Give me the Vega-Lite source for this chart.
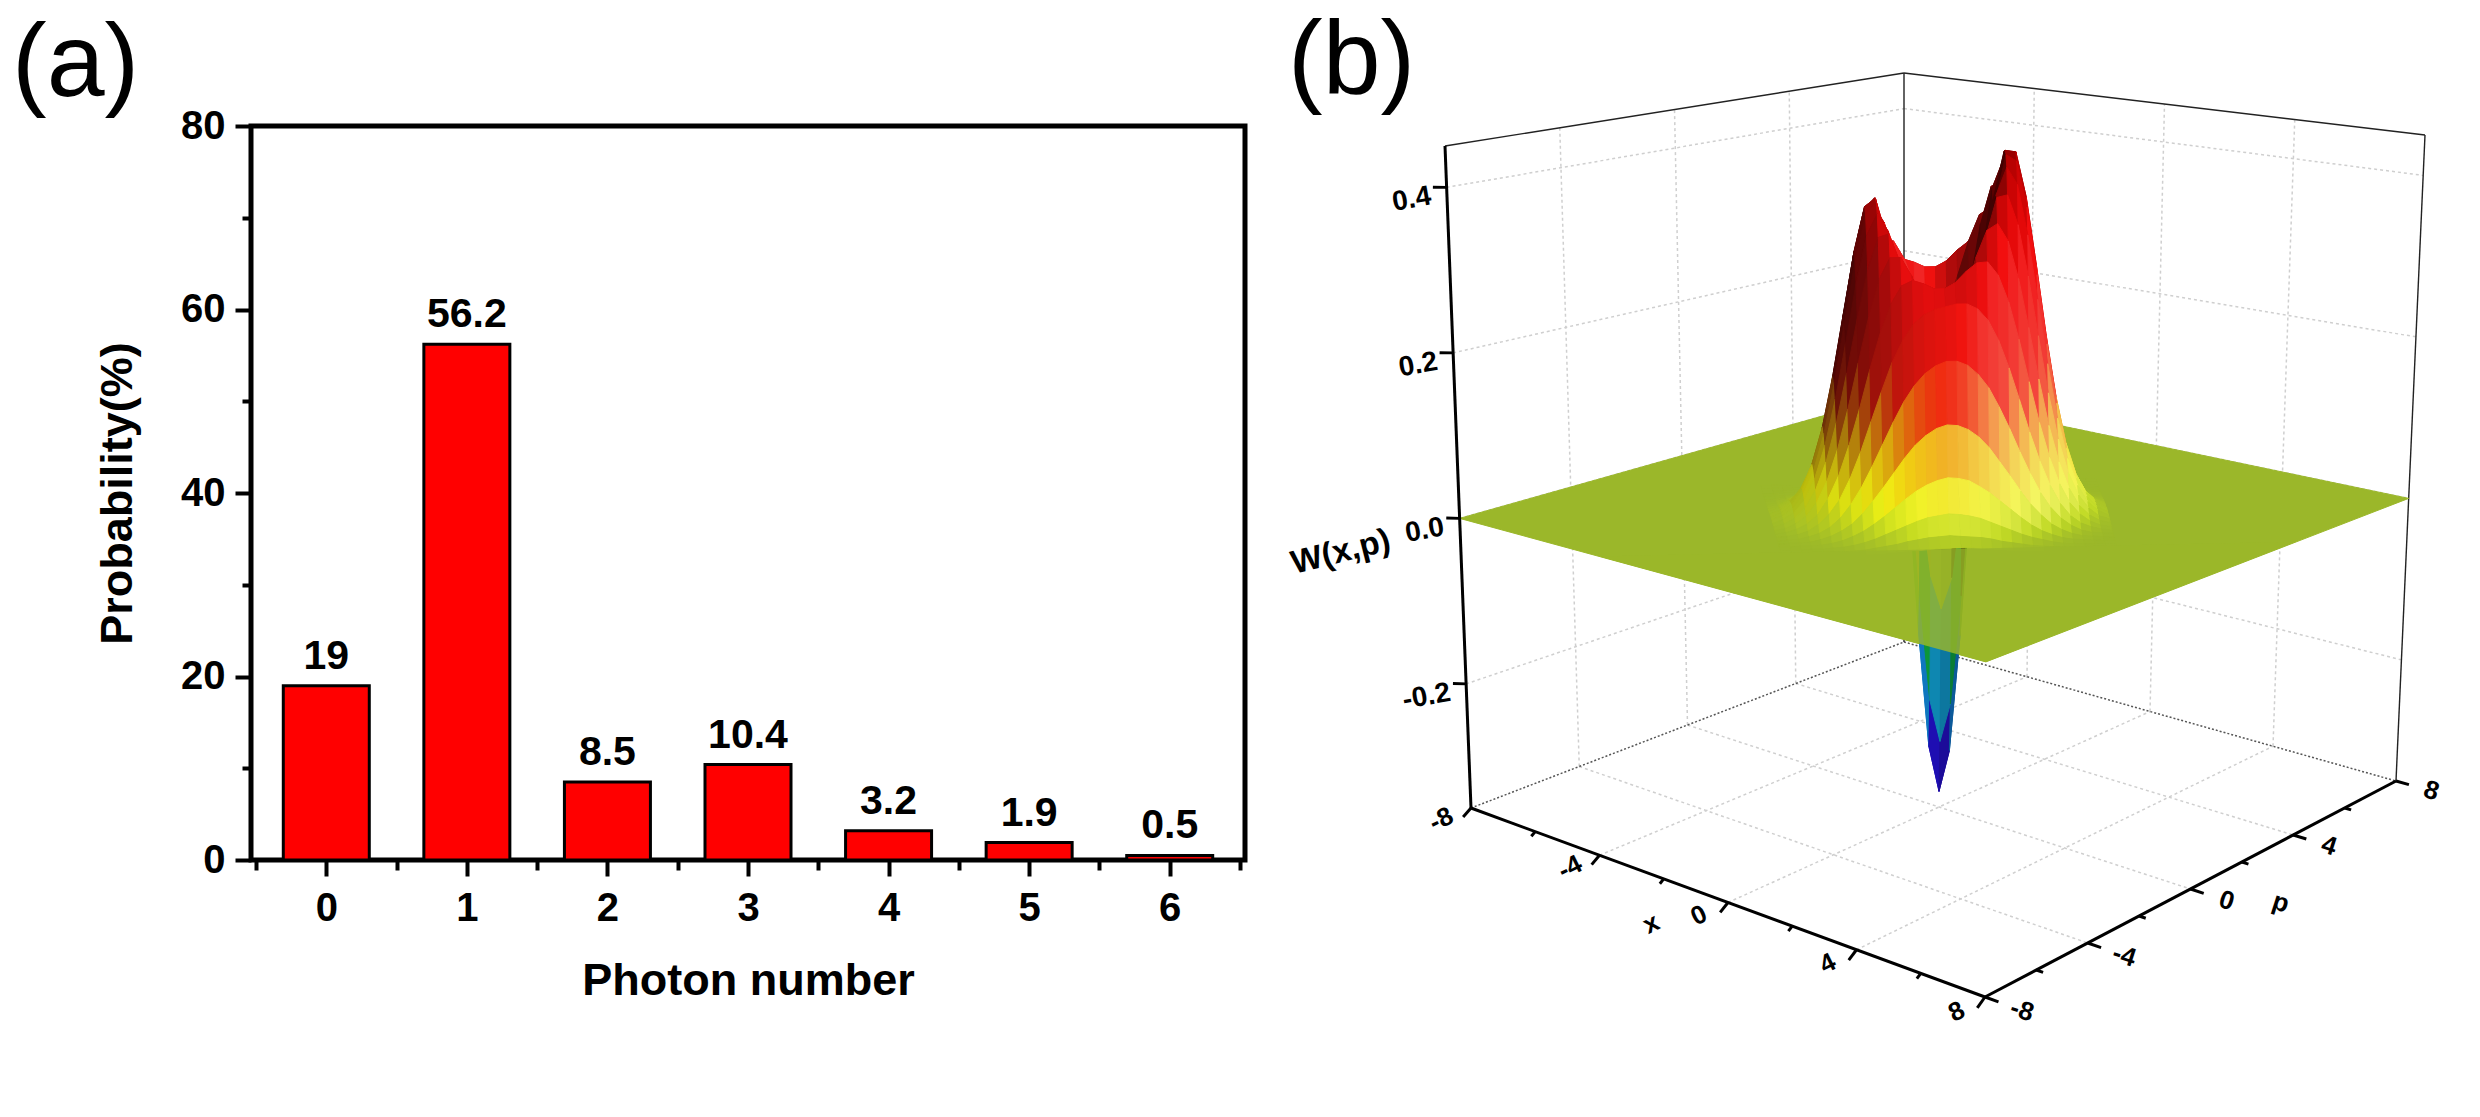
{
  "$schema": "https://vega.github.io/schema/vega-lite/v6.json",
  "background": "white",
  "padding": {"left": 9, "top": 10, "right": 0, "bottom": 0},
  "config": {
    "font": "Liberation Sans",
    "view": {"stroke": null},
    "axis": {"grid": false, "tickColor": "black", "domainColor": "black", "labelColor": "black", "titleColor": "black", "labelFlush": false},
    "title": {"color": "black"}
  },
  "datasets": {
    "bars": [
      {"n": 0, "P": 19}, {"n": 1, "P": 56.2}, {"n": 2, "P": 8.5}, {"n": 3, "P": 10.4},
      {"n": 4, "P": 3.2}, {"n": 5, "P": 1.9}, {"n": 6, "P": 0.5}
    ],
    "box": [
      {"k":"g","s":"g1","o":0,"x":-4,"p":-8,"W":-0.35},{"k":"g","s":"g1","o":1,"x":-4,"p":8,"W":-0.35},
      {"k":"g","s":"g2","o":0,"x":0,"p":-8,"W":-0.35},{"k":"g","s":"g2","o":1,"x":0,"p":8,"W":-0.35},
      {"k":"g","s":"g3","o":0,"x":4,"p":-8,"W":-0.35},{"k":"g","s":"g3","o":1,"x":4,"p":8,"W":-0.35},
      {"k":"g","s":"g4","o":0,"x":-8,"p":-4,"W":-0.35},{"k":"g","s":"g4","o":1,"x":8,"p":-4,"W":-0.35},
      {"k":"g","s":"g5","o":0,"x":-8,"p":0,"W":-0.35},{"k":"g","s":"g5","o":1,"x":8,"p":0,"W":-0.35},
      {"k":"g","s":"g6","o":0,"x":-8,"p":4,"W":-0.35},{"k":"g","s":"g6","o":1,"x":8,"p":4,"W":-0.35},
      {"k":"g","s":"g7","o":0,"x":-8,"p":-4,"W":-0.35},{"k":"g","s":"g7","o":1,"x":-8,"p":-4,"W":0.45},
      {"k":"g","s":"g8","o":0,"x":-8,"p":0,"W":-0.35},{"k":"g","s":"g8","o":1,"x":-8,"p":0,"W":0.45},
      {"k":"g","s":"g9","o":0,"x":-8,"p":4,"W":-0.35},{"k":"g","s":"g9","o":1,"x":-8,"p":4,"W":0.45},
      {"k":"g","s":"g10","o":0,"x":-8,"p":-8,"W":-0.2},{"k":"g","s":"g10","o":1,"x":-8,"p":8,"W":-0.2},
      {"k":"g","s":"g11","o":0,"x":-8,"p":-8,"W":0},{"k":"g","s":"g11","o":1,"x":-8,"p":8,"W":0},
      {"k":"g","s":"g12","o":0,"x":-8,"p":-8,"W":0.2},{"k":"g","s":"g12","o":1,"x":-8,"p":8,"W":0.2},
      {"k":"g","s":"g13","o":0,"x":-8,"p":-8,"W":0.4},{"k":"g","s":"g13","o":1,"x":-8,"p":8,"W":0.4},
      {"k":"g","s":"g14","o":0,"x":-4,"p":8,"W":-0.35},{"k":"g","s":"g14","o":1,"x":-4,"p":8,"W":0.45},
      {"k":"g","s":"g15","o":0,"x":0,"p":8,"W":-0.35},{"k":"g","s":"g15","o":1,"x":0,"p":8,"W":0.45},
      {"k":"g","s":"g16","o":0,"x":4,"p":8,"W":-0.35},{"k":"g","s":"g16","o":1,"x":4,"p":8,"W":0.45},
      {"k":"g","s":"g17","o":0,"x":-8,"p":8,"W":-0.2},{"k":"g","s":"g17","o":1,"x":8,"p":8,"W":-0.2},
      {"k":"g","s":"g18","o":0,"x":-8,"p":8,"W":0},{"k":"g","s":"g18","o":1,"x":8,"p":8,"W":0},
      {"k":"g","s":"g19","o":0,"x":-8,"p":8,"W":0.2},{"k":"g","s":"g19","o":1,"x":8,"p":8,"W":0.2},
      {"k":"g","s":"g20","o":0,"x":-8,"p":8,"W":0.4},{"k":"g","s":"g20","o":1,"x":8,"p":8,"W":0.4},
      {"k":"e","s":"e1","o":0,"x":-8,"p":8,"W":-0.35},{"k":"e","s":"e1","o":1,"x":-8,"p":8,"W":0.45},
      {"k":"e","s":"e2","o":0,"x":8,"p":8,"W":-0.35},{"k":"e","s":"e2","o":1,"x":8,"p":8,"W":0.45},
      {"k":"e","s":"e3","o":0,"x":-8,"p":-8,"W":0.45},{"k":"e","s":"e3","o":1,"x":-8,"p":8,"W":0.45},
      {"k":"e","s":"e4","o":0,"x":-8,"p":8,"W":0.45},{"k":"e","s":"e4","o":1,"x":8,"p":8,"W":0.45},
      {"k":"f","s":"f1","o":0,"x":-8,"p":-8,"W":-0.35},{"k":"f","s":"f1","o":1,"x":-8,"p":8,"W":-0.35},
      {"k":"f","s":"f2","o":0,"x":-8,"p":8,"W":-0.35},{"k":"f","s":"f2","o":1,"x":8,"p":8,"W":-0.35},
      {"k":"pk","s":"pk","o":0,"x":-8,"p":-8,"W":0},{"k":"pk","s":"pk","o":1,"x":8,"p":-8,"W":0},
      {"k":"pk","s":"pk","o":2,"x":8,"p":8,"W":0},{"k":"pk","s":"pk","o":3,"x":-8,"p":8,"W":0},
      {"k":"np","s":"np","o":0,"x":8,"p":-8,"W":0},{"k":"np","s":"np","o":1,"x":8,"p":3.757,"W":0},
      {"k":"np","s":"np","o":2,"x":-3.757,"p":-8,"W":0},
      {"k":"a","s":"a1","o":0,"x":-8,"p":-8,"W":-0.35},{"k":"a","s":"a1","o":1,"x":-8,"p":-8,"W":0.45},
      {"k":"a","s":"a2","o":0,"x":-8,"p":-8,"W":-0.35},{"k":"a","s":"a2","o":1,"x":8,"p":-8,"W":-0.35},
      {"k":"a","s":"a3","o":0,"x":8,"p":-8,"W":-0.35},{"k":"a","s":"a3","o":1,"x":8,"p":8,"W":-0.35},
      {"k":"t","s":"tw1","o":0,"x":-8,"p":-8,"W":-0.2},{"k":"t","s":"tw1","o":1,"x":-8.22,"p":-8.22,"W":-0.2},
      {"k":"t","s":"tw2","o":0,"x":-8,"p":-8,"W":0},{"k":"t","s":"tw2","o":1,"x":-8.22,"p":-8.22,"W":0},
      {"k":"t","s":"tw3","o":0,"x":-8,"p":-8,"W":0.2},{"k":"t","s":"tw3","o":1,"x":-8.22,"p":-8.22,"W":0.2},
      {"k":"t","s":"tw4","o":0,"x":-8,"p":-8,"W":0.4},{"k":"t","s":"tw4","o":1,"x":-8.22,"p":-8.22,"W":0.4},
      {"k":"t","s":"tx1","o":0,"x":-8,"p":-8,"W":-0.35},{"k":"t","s":"tx1","o":1,"x":-8,"p":-8.3,"W":-0.357},
      {"k":"t","s":"tx2","o":0,"x":-4,"p":-8,"W":-0.35},{"k":"t","s":"tx2","o":1,"x":-4,"p":-8.3,"W":-0.357},
      {"k":"t","s":"tx3","o":0,"x":0,"p":-8,"W":-0.35},{"k":"t","s":"tx3","o":1,"x":0,"p":-8.3,"W":-0.357},
      {"k":"t","s":"tx4","o":0,"x":4,"p":-8,"W":-0.35},{"k":"t","s":"tx4","o":1,"x":4,"p":-8.3,"W":-0.357},
      {"k":"t","s":"tx5","o":0,"x":8,"p":-8,"W":-0.35},{"k":"t","s":"tx5","o":1,"x":8,"p":-8.3,"W":-0.357},
      {"k":"t","s":"tx6","o":0,"x":-6,"p":-8,"W":-0.35},{"k":"t","s":"tx6","o":1,"x":-6,"p":-8.15,"W":-0.3535},
      {"k":"t","s":"tx7","o":0,"x":-2,"p":-8,"W":-0.35},{"k":"t","s":"tx7","o":1,"x":-2,"p":-8.15,"W":-0.3535},
      {"k":"t","s":"tx8","o":0,"x":2,"p":-8,"W":-0.35},{"k":"t","s":"tx8","o":1,"x":2,"p":-8.15,"W":-0.3535},
      {"k":"t","s":"tx9","o":0,"x":6,"p":-8,"W":-0.35},{"k":"t","s":"tx9","o":1,"x":6,"p":-8.15,"W":-0.3535},
      {"k":"t","s":"tp1","o":0,"x":8,"p":-8,"W":-0.35},{"k":"t","s":"tp1","o":1,"x":8.42,"p":-8,"W":-0.35},
      {"k":"t","s":"tp2","o":0,"x":8,"p":-4,"W":-0.35},{"k":"t","s":"tp2","o":1,"x":8.42,"p":-4,"W":-0.35},
      {"k":"t","s":"tp3","o":0,"x":8,"p":0,"W":-0.35},{"k":"t","s":"tp3","o":1,"x":8.42,"p":0,"W":-0.35},
      {"k":"t","s":"tp4","o":0,"x":8,"p":4,"W":-0.35},{"k":"t","s":"tp4","o":1,"x":8.42,"p":4,"W":-0.35},
      {"k":"t","s":"tp5","o":0,"x":8,"p":8,"W":-0.35},{"k":"t","s":"tp5","o":1,"x":8.42,"p":8,"W":-0.35},
      {"k":"t","s":"tp6","o":0,"x":8,"p":-6,"W":-0.35},{"k":"t","s":"tp6","o":1,"x":8.21,"p":-6,"W":-0.35},
      {"k":"t","s":"tp7","o":0,"x":8,"p":-2,"W":-0.35},{"k":"t","s":"tp7","o":1,"x":8.21,"p":-2,"W":-0.35},
      {"k":"t","s":"tp8","o":0,"x":8,"p":2,"W":-0.35},{"k":"t","s":"tp8","o":1,"x":8.21,"p":2,"W":-0.35},
      {"k":"t","s":"tp9","o":0,"x":8,"p":6,"W":-0.35},{"k":"t","s":"tp9","o":1,"x":8.21,"p":6,"W":-0.35},
      {"k":"wl","t":"-0.2","x":-8,"p":-8,"W":-0.2},{"k":"wl","t":"0.0","x":-8,"p":-8,"W":0},
      {"k":"wl","t":"0.2","x":-8,"p":-8,"W":0.2},{"k":"wl","t":"0.4","x":-8,"p":-8,"W":0.4},
      {"k":"wt","t":"W(x,p)","x":-8,"p":-8,"W":0},
      {"k":"xl","t":"-8","x":-8,"p":-9.1,"W":-0.35},{"k":"xl","t":"-4","x":-4,"p":-9.1,"W":-0.35},
      {"k":"xl","t":"0","x":0,"p":-9.1,"W":-0.35},{"k":"xl","t":"4","x":4,"p":-9.1,"W":-0.35},
      {"k":"xl","t":"8","x":8,"p":-9.1,"W":-0.35},
      {"k":"xt","t":"x","x":-0.5,"p":-10.3,"W":-0.35},
      {"k":"pn","t":"-8","x":9.15,"p":-8,"W":-0.35},{"k":"pn","t":"-4","x":9.15,"p":-4,"W":-0.35},
      {"k":"pn","t":"0","x":9.15,"p":0,"W":-0.35},{"k":"pn","t":"4","x":9.15,"p":4,"W":-0.35},
      {"k":"pn","t":"8","x":9.15,"p":8,"W":-0.35},
      {"k":"pt","t":"p","x":10.3,"p":0.7,"W":-0.35}
    ],
    "wigner": [
      {"a":-3,"b":-4,"W":0},{"a":-3,"b":-3.75,"W":0},{"a":-3,"b":-3.5,"W":0},{"a":-3,"b":-3.25,"W":0},{"a":-3,"b":-3,"W":0},{"a":-3,"b":-2.75,"W":0},{"a":-3,"b":-2.5,"W":0},{"a":-3,"b":-2.25,"W":0.001},{"a":-3,"b":-2,"W":0.001},{"a":-3,"b":-1.75,"W":0.002},{"a":-3,"b":-1.5,"W":0.003},{"a":-3,"b":-1.25,"W":0.004},{"a":-3,"b":-1,"W":0.005},{"a":-3,"b":-0.75,"W":0.005},{"a":-3,"b":-0.5,"W":0.006},{"a":-3,"b":-0.25,"W":0.007},{"a":-3,"b":0,"W":0.007},{"a":-3,"b":0.25,"W":0.007},{"a":-3,"b":0.5,"W":0.007},{"a":-3,"b":0.75,"W":0.006},{"a":-3,"b":1,"W":0.005},{"a":-3,"b":1.25,"W":0.004},{"a":-3,"b":1.5,"W":0.003},{"a":-3,"b":1.75,"W":0.002},{"a":-3,"b":2,"W":0.002},{"a":-3,"b":2.25,"W":0.001},{"a":-3,"b":2.5,"W":0.001},{"a":-3,"b":2.75,"W":0},{"a":-3,"b":3,"W":0},{"a":-3,"b":3.25,"W":0},{"a":-3,"b":3.5,"W":0},{"a":-3,"b":3.75,"W":0},{"a":-3,"b":4,"W":0},
      {"a":-2.75,"b":-4,"W":0},{"a":-2.75,"b":-3.75,"W":0},{"a":-2.75,"b":-3.5,"W":0},{"a":-2.75,"b":-3.25,"W":0},{"a":-2.75,"b":-3,"W":0},{"a":-2.75,"b":-2.75,"W":0.001},{"a":-2.75,"b":-2.5,"W":0.001},{"a":-2.75,"b":-2.25,"W":0.002},{"a":-2.75,"b":-2,"W":0.003},{"a":-2.75,"b":-1.75,"W":0.005},{"a":-2.75,"b":-1.5,"W":0.007},{"a":-2.75,"b":-1.25,"W":0.009},{"a":-2.75,"b":-1,"W":0.012},{"a":-2.75,"b":-0.75,"W":0.014},{"a":-2.75,"b":-0.5,"W":0.016},{"a":-2.75,"b":-0.25,"W":0.017},{"a":-2.75,"b":0,"W":0.018},{"a":-2.75,"b":0.25,"W":0.017},{"a":-2.75,"b":0.5,"W":0.016},{"a":-2.75,"b":0.75,"W":0.015},{"a":-2.75,"b":1,"W":0.013},{"a":-2.75,"b":1.25,"W":0.01},{"a":-2.75,"b":1.5,"W":0.008},{"a":-2.75,"b":1.75,"W":0.006},{"a":-2.75,"b":2,"W":0.004},{"a":-2.75,"b":2.25,"W":0.003},{"a":-2.75,"b":2.5,"W":0.002},{"a":-2.75,"b":2.75,"W":0.001},{"a":-2.75,"b":3,"W":0.001},{"a":-2.75,"b":3.25,"W":0},{"a":-2.75,"b":3.5,"W":0},{"a":-2.75,"b":3.75,"W":0},{"a":-2.75,"b":4,"W":0},
      {"a":-2.5,"b":-4,"W":0},{"a":-2.5,"b":-3.75,"W":0},{"a":-2.5,"b":-3.5,"W":0},{"a":-2.5,"b":-3.25,"W":0.001},{"a":-2.5,"b":-3,"W":0.001},{"a":-2.5,"b":-2.75,"W":0.002},{"a":-2.5,"b":-2.5,"W":0.003},{"a":-2.5,"b":-2.25,"W":0.005},{"a":-2.5,"b":-2,"W":0.008},{"a":-2.5,"b":-1.75,"W":0.012},{"a":-2.5,"b":-1.5,"W":0.017},{"a":-2.5,"b":-1.25,"W":0.022},{"a":-2.5,"b":-1,"W":0.027},{"a":-2.5,"b":-0.75,"W":0.032},{"a":-2.5,"b":-0.5,"W":0.036},{"a":-2.5,"b":-0.25,"W":0.038},{"a":-2.5,"b":0,"W":0.04},{"a":-2.5,"b":0.25,"W":0.039},{"a":-2.5,"b":0.5,"W":0.037},{"a":-2.5,"b":0.75,"W":0.034},{"a":-2.5,"b":1,"W":0.029},{"a":-2.5,"b":1.25,"W":0.024},{"a":-2.5,"b":1.5,"W":0.019},{"a":-2.5,"b":1.75,"W":0.014},{"a":-2.5,"b":2,"W":0.01},{"a":-2.5,"b":2.25,"W":0.007},{"a":-2.5,"b":2.5,"W":0.004},{"a":-2.5,"b":2.75,"W":0.002},{"a":-2.5,"b":3,"W":0.001},{"a":-2.5,"b":3.25,"W":0.001},{"a":-2.5,"b":3.5,"W":0},{"a":-2.5,"b":3.75,"W":0},{"a":-2.5,"b":4,"W":0},
      {"a":-2.25,"b":-4,"W":0},{"a":-2.25,"b":-3.75,"W":0},{"a":-2.25,"b":-3.5,"W":0.001},{"a":-2.25,"b":-3.25,"W":0.001},{"a":-2.25,"b":-3,"W":0.002},{"a":-2.25,"b":-2.75,"W":0.004},{"a":-2.25,"b":-2.5,"W":0.007},{"a":-2.25,"b":-2.25,"W":0.012},{"a":-2.25,"b":-2,"W":0.018},{"a":-2.25,"b":-1.75,"W":0.026},{"a":-2.25,"b":-1.5,"W":0.035},{"a":-2.25,"b":-1.25,"W":0.045},{"a":-2.25,"b":-1,"W":0.055},{"a":-2.25,"b":-0.75,"W":0.064},{"a":-2.25,"b":-0.5,"W":0.071},{"a":-2.25,"b":-0.25,"W":0.076},{"a":-2.25,"b":0,"W":0.079},{"a":-2.25,"b":0.25,"W":0.078},{"a":-2.25,"b":0.5,"W":0.075},{"a":-2.25,"b":0.75,"W":0.068},{"a":-2.25,"b":1,"W":0.06},{"a":-2.25,"b":1.25,"W":0.05},{"a":-2.25,"b":1.5,"W":0.04},{"a":-2.25,"b":1.75,"W":0.03},{"a":-2.25,"b":2,"W":0.021},{"a":-2.25,"b":2.25,"W":0.014},{"a":-2.25,"b":2.5,"W":0.009},{"a":-2.25,"b":2.75,"W":0.005},{"a":-2.25,"b":3,"W":0.003},{"a":-2.25,"b":3.25,"W":0.002},{"a":-2.25,"b":3.5,"W":0.001},{"a":-2.25,"b":3.75,"W":0},{"a":-2.25,"b":4,"W":0},
      {"a":-2,"b":-4,"W":0},{"a":-2,"b":-3.75,"W":0.001},{"a":-2,"b":-3.5,"W":0.001},{"a":-2,"b":-3.25,"W":0.002},{"a":-2,"b":-3,"W":0.005},{"a":-2,"b":-2.75,"W":0.009},{"a":-2,"b":-2.5,"W":0.015},{"a":-2,"b":-2.25,"W":0.023},{"a":-2,"b":-2,"W":0.035},{"a":-2,"b":-1.75,"W":0.05},{"a":-2,"b":-1.5,"W":0.066},{"a":-2,"b":-1.25,"W":0.083},{"a":-2,"b":-1,"W":0.1},{"a":-2,"b":-0.75,"W":0.115},{"a":-2,"b":-0.5,"W":0.126},{"a":-2,"b":-0.25,"W":0.134},{"a":-2,"b":0,"W":0.138},{"a":-2,"b":0.25,"W":0.137},{"a":-2,"b":0.5,"W":0.132},{"a":-2,"b":0.75,"W":0.123},{"a":-2,"b":1,"W":0.11},{"a":-2,"b":1.25,"W":0.093},{"a":-2,"b":1.5,"W":0.076},{"a":-2,"b":1.75,"W":0.058},{"a":-2,"b":2,"W":0.042},{"a":-2,"b":2.25,"W":0.029},{"a":-2,"b":2.5,"W":0.018},{"a":-2,"b":2.75,"W":0.011},{"a":-2,"b":3,"W":0.006},{"a":-2,"b":3.25,"W":0.003},{"a":-2,"b":3.5,"W":0.002},{"a":-2,"b":3.75,"W":0.001},{"a":-2,"b":4,"W":0},
      {"a":-1.75,"b":-4,"W":0},{"a":-1.75,"b":-3.75,"W":0.001},{"a":-1.75,"b":-3.5,"W":0.002},{"a":-1.75,"b":-3.25,"W":0.005},{"a":-1.75,"b":-3,"W":0.009},{"a":-1.75,"b":-2.75,"W":0.016},{"a":-1.75,"b":-2.5,"W":0.027},{"a":-1.75,"b":-2.25,"W":0.043},{"a":-1.75,"b":-2,"W":0.063},{"a":-1.75,"b":-1.75,"W":0.087},{"a":-1.75,"b":-1.5,"W":0.113},{"a":-1.75,"b":-1.25,"W":0.139},{"a":-1.75,"b":-1,"W":0.163},{"a":-1.75,"b":-0.75,"W":0.182},{"a":-1.75,"b":-0.5,"W":0.196},{"a":-1.75,"b":-0.25,"W":0.205},{"a":-1.75,"b":0,"W":0.21},{"a":-1.75,"b":0.25,"W":0.21},{"a":-1.75,"b":0.5,"W":0.205},{"a":-1.75,"b":0.75,"W":0.194},{"a":-1.75,"b":1,"W":0.178},{"a":-1.75,"b":1.25,"W":0.155},{"a":-1.75,"b":1.5,"W":0.129},{"a":-1.75,"b":1.75,"W":0.101},{"a":-1.75,"b":2,"W":0.075},{"a":-1.75,"b":2.25,"W":0.052},{"a":-1.75,"b":2.5,"W":0.034},{"a":-1.75,"b":2.75,"W":0.021},{"a":-1.75,"b":3,"W":0.012},{"a":-1.75,"b":3.25,"W":0.006},{"a":-1.75,"b":3.5,"W":0.003},{"a":-1.75,"b":3.75,"W":0.002},{"a":-1.75,"b":4,"W":0.001},
      {"a":-1.5,"b":-4,"W":0.001},{"a":-1.5,"b":-3.75,"W":0.002},{"a":-1.5,"b":-3.5,"W":0.004},{"a":-1.5,"b":-3.25,"W":0.008},{"a":-1.5,"b":-3,"W":0.016},{"a":-1.5,"b":-2.75,"W":0.028},{"a":-1.5,"b":-2.5,"W":0.045},{"a":-1.5,"b":-2.25,"W":0.07},{"a":-1.5,"b":-2,"W":0.101},{"a":-1.5,"b":-1.75,"W":0.137},{"a":-1.5,"b":-1.5,"W":0.173},{"a":-1.5,"b":-1.25,"W":0.207},{"a":-1.5,"b":-1,"W":0.233},{"a":-1.5,"b":-0.75,"W":0.252},{"a":-1.5,"b":-0.5,"W":0.263},{"a":-1.5,"b":-0.25,"W":0.269},{"a":-1.5,"b":0,"W":0.272},{"a":-1.5,"b":0.25,"W":0.275},{"a":-1.5,"b":0.5,"W":0.275},{"a":-1.5,"b":0.75,"W":0.269},{"a":-1.5,"b":1,"W":0.255},{"a":-1.5,"b":1.25,"W":0.231},{"a":-1.5,"b":1.5,"W":0.198},{"a":-1.5,"b":1.75,"W":0.16},{"a":-1.5,"b":2,"W":0.121},{"a":-1.5,"b":2.25,"W":0.086},{"a":-1.5,"b":2.5,"W":0.057},{"a":-1.5,"b":2.75,"W":0.035},{"a":-1.5,"b":3,"W":0.02},{"a":-1.5,"b":3.25,"W":0.011},{"a":-1.5,"b":3.5,"W":0.006},{"a":-1.5,"b":3.75,"W":0.003},{"a":-1.5,"b":4,"W":0.001},
      {"a":-1.25,"b":-4,"W":0.001},{"a":-1.25,"b":-3.75,"W":0.003},{"a":-1.25,"b":-3.5,"W":0.007},{"a":-1.25,"b":-3.25,"W":0.013},{"a":-1.25,"b":-3,"W":0.024},{"a":-1.25,"b":-2.75,"W":0.043},{"a":-1.25,"b":-2.5,"W":0.07},{"a":-1.25,"b":-2.25,"W":0.106},{"a":-1.25,"b":-2,"W":0.149},{"a":-1.25,"b":-1.75,"W":0.196},{"a":-1.25,"b":-1.5,"W":0.24},{"a":-1.25,"b":-1.25,"W":0.274},{"a":-1.25,"b":-1,"W":0.295},{"a":-1.25,"b":-0.75,"W":0.301},{"a":-1.25,"b":-0.5,"W":0.297},{"a":-1.25,"b":-0.25,"W":0.291},{"a":-1.25,"b":0,"W":0.291},{"a":-1.25,"b":0.25,"W":0.298},{"a":-1.25,"b":0.5,"W":0.311},{"a":-1.25,"b":0.75,"W":0.321},{"a":-1.25,"b":1,"W":0.322},{"a":-1.25,"b":1.25,"W":0.306},{"a":-1.25,"b":1.5,"W":0.274},{"a":-1.25,"b":1.75,"W":0.229},{"a":-1.25,"b":2,"W":0.178},{"a":-1.25,"b":2.25,"W":0.129},{"a":-1.25,"b":2.5,"W":0.087},{"a":-1.25,"b":2.75,"W":0.055},{"a":-1.25,"b":3,"W":0.032},{"a":-1.25,"b":3.25,"W":0.018},{"a":-1.25,"b":3.5,"W":0.009},{"a":-1.25,"b":3.75,"W":0.004},{"a":-1.25,"b":4,"W":0.002},
      {"a":-1,"b":-4,"W":0.002},{"a":-1,"b":-3.75,"W":0.004},{"a":-1,"b":-3.5,"W":0.01},{"a":-1,"b":-3.25,"W":0.019},{"a":-1,"b":-3,"W":0.035},{"a":-1,"b":-2.75,"W":0.061},{"a":-1,"b":-2.5,"W":0.098},{"a":-1,"b":-2.25,"W":0.146},{"a":-1,"b":-2,"W":0.201},{"a":-1,"b":-1.75,"W":0.256},{"a":-1,"b":-1.5,"W":0.301},{"a":-1,"b":-1.25,"W":0.326},{"a":-1,"b":-1,"W":0.326},{"a":-1,"b":-0.75,"W":0.304},{"a":-1,"b":-0.5,"W":0.27},{"a":-1,"b":-0.25,"W":0.241},{"a":-1,"b":0,"W":0.232},{"a":-1,"b":0.25,"W":0.247},{"a":-1,"b":0.5,"W":0.283},{"a":-1,"b":0.75,"W":0.325},{"a":-1,"b":1,"W":0.357},{"a":-1,"b":1.25,"W":0.365},{"a":-1,"b":1.5,"W":0.344},{"a":-1,"b":1.75,"W":0.299},{"a":-1,"b":2,"W":0.24},{"a":-1,"b":2.25,"W":0.178},{"a":-1,"b":2.5,"W":0.122},{"a":-1,"b":2.75,"W":0.078},{"a":-1,"b":3,"W":0.046},{"a":-1,"b":3.25,"W":0.025},{"a":-1,"b":3.5,"W":0.013},{"a":-1,"b":3.75,"W":0.006},{"a":-1,"b":4,"W":0.003},
      {"a":-0.75,"b":-4,"W":0.003},{"a":-0.75,"b":-3.75,"W":0.006},{"a":-0.75,"b":-3.5,"W":0.013},{"a":-0.75,"b":-3.25,"W":0.025},{"a":-0.75,"b":-3,"W":0.047},{"a":-0.75,"b":-2.75,"W":0.08},{"a":-0.75,"b":-2.5,"W":0.127},{"a":-0.75,"b":-2.25,"W":0.186},{"a":-0.75,"b":-2,"W":0.25},{"a":-0.75,"b":-1.75,"W":0.309},{"a":-0.75,"b":-1.5,"W":0.348},{"a":-0.75,"b":-1.25,"W":0.352},{"a":-0.75,"b":-1,"W":0.318},{"a":-0.75,"b":-0.75,"W":0.252},{"a":-0.75,"b":-0.5,"W":0.174},{"a":-0.75,"b":-0.25,"W":0.112},{"a":-0.75,"b":0,"W":0.088},{"a":-0.75,"b":0.25,"W":0.114},{"a":-0.75,"b":0.5,"W":0.182},{"a":-0.75,"b":0.75,"W":0.269},{"a":-0.75,"b":1,"W":0.347},{"a":-0.75,"b":1.25,"W":0.394},{"a":-0.75,"b":1.5,"W":0.397},{"a":-0.75,"b":1.75,"W":0.361},{"a":-0.75,"b":2,"W":0.299},{"a":-0.75,"b":2.25,"W":0.227},{"a":-0.75,"b":2.5,"W":0.158},{"a":-0.75,"b":2.75,"W":0.102},{"a":-0.75,"b":3,"W":0.061},{"a":-0.75,"b":3.25,"W":0.034},{"a":-0.75,"b":3.5,"W":0.018},{"a":-0.75,"b":3.75,"W":0.008},{"a":-0.75,"b":4,"W":0.004},
      {"a":-0.5,"b":-4,"W":0.003},{"a":-0.5,"b":-3.75,"W":0.008},{"a":-0.5,"b":-3.5,"W":0.016},{"a":-0.5,"b":-3.25,"W":0.031},{"a":-0.5,"b":-3,"W":0.057},{"a":-0.5,"b":-2.75,"W":0.097},{"a":-0.5,"b":-2.5,"W":0.152},{"a":-0.5,"b":-2.25,"W":0.219},{"a":-0.5,"b":-2,"W":0.29},{"a":-0.5,"b":-1.75,"W":0.348},{"a":-0.5,"b":-1.5,"W":0.374},{"a":-0.5,"b":-1.25,"W":0.353},{"a":-0.5,"b":-1,"W":0.278},{"a":-0.5,"b":-0.75,"W":0.162},{"a":-0.5,"b":-0.5,"W":0.036},{"a":-0.5,"b":-0.25,"W":-0.063},{"a":-0.5,"b":0,"W":-0.102},{"a":-0.5,"b":0.25,"W":-0.065},{"a":-0.5,"b":0.5,"W":0.038},{"a":-0.5,"b":0.75,"W":0.174},{"a":-0.5,"b":1,"W":0.304},{"a":-0.5,"b":1.25,"W":0.394},{"a":-0.5,"b":1.5,"W":0.428},{"a":-0.5,"b":1.75,"W":0.407},{"a":-0.5,"b":2,"W":0.346},{"a":-0.5,"b":2.25,"W":0.268},{"a":-0.5,"b":2.5,"W":0.19},{"a":-0.5,"b":2.75,"W":0.124},{"a":-0.5,"b":3,"W":0.075},{"a":-0.5,"b":3.25,"W":0.042},{"a":-0.5,"b":3.5,"W":0.022},{"a":-0.5,"b":3.75,"W":0.011},{"a":-0.5,"b":4,"W":0.005},
      {"a":-0.25,"b":-4,"W":0.004},{"a":-0.25,"b":-3.75,"W":0.009},{"a":-0.25,"b":-3.5,"W":0.018},{"a":-0.25,"b":-3.25,"W":0.035},{"a":-0.25,"b":-3,"W":0.064},{"a":-0.25,"b":-2.75,"W":0.108},{"a":-0.25,"b":-2.5,"W":0.169},{"a":-0.25,"b":-2.25,"W":0.242},{"a":-0.25,"b":-2,"W":0.315},{"a":-0.25,"b":-1.75,"W":0.371},{"a":-0.25,"b":-1.5,"W":0.386},{"a":-0.25,"b":-1.25,"W":0.341},{"a":-0.25,"b":-1,"W":0.233},{"a":-0.25,"b":-0.75,"W":0.078},{"a":-0.25,"b":-0.5,"W":-0.087},{"a":-0.25,"b":-0.25,"W":-0.216},{"a":-0.25,"b":0,"W":-0.266},{"a":-0.25,"b":0.25,"W":-0.221},{"a":-0.25,"b":0.5,"W":-0.091},{"a":-0.25,"b":0.75,"W":0.084},{"a":-0.25,"b":1,"W":0.255},{"a":-0.25,"b":1.25,"W":0.382},{"a":-0.25,"b":1.5,"W":0.441},{"a":-0.25,"b":1.75,"W":0.433},{"a":-0.25,"b":2,"W":0.377},{"a":-0.25,"b":2.25,"W":0.295},{"a":-0.25,"b":2.5,"W":0.211},{"a":-0.25,"b":2.75,"W":0.139},{"a":-0.25,"b":3,"W":0.084},{"a":-0.25,"b":3.25,"W":0.047},{"a":-0.25,"b":3.5,"W":0.025},{"a":-0.25,"b":3.75,"W":0.012},{"a":-0.25,"b":4,"W":0.005},
      {"a":0,"b":-4,"W":0.004},{"a":0,"b":-3.75,"W":0.009},{"a":0,"b":-3.5,"W":0.019},{"a":0,"b":-3.25,"W":0.037},{"a":0,"b":-3,"W":0.067},{"a":0,"b":-2.75,"W":0.113},{"a":0,"b":-2.5,"W":0.175},{"a":0,"b":-2.25,"W":0.249},{"a":0,"b":-2,"W":0.324},{"a":0,"b":-1.75,"W":0.378},{"a":0,"b":-1.5,"W":0.388},{"a":0,"b":-1.25,"W":0.335},{"a":0,"b":-1,"W":0.214},{"a":0,"b":-0.75,"W":0.044},{"a":0,"b":-0.5,"W":-0.137},{"a":0,"b":-0.25,"W":-0.276},{"a":0,"b":0,"W":-0.331},{"a":0,"b":0.25,"W":-0.282},{"a":0,"b":0.5,"W":-0.143},{"a":0,"b":0.75,"W":0.047},{"a":0,"b":1,"W":0.234},{"a":0,"b":1.25,"W":0.375},{"a":0,"b":1.5,"W":0.444},{"a":0,"b":1.75,"W":0.442},{"a":0,"b":2,"W":0.387},{"a":0,"b":2.25,"W":0.305},{"a":0,"b":2.5,"W":0.219},{"a":0,"b":2.75,"W":0.144},{"a":0,"b":3,"W":0.087},{"a":0,"b":3.25,"W":0.049},{"a":0,"b":3.5,"W":0.026},{"a":0,"b":3.75,"W":0.012},{"a":0,"b":4,"W":0.006},
      {"a":0.25,"b":-4,"W":0.004},{"a":0.25,"b":-3.75,"W":0.009},{"a":0.25,"b":-3.5,"W":0.018},{"a":0.25,"b":-3.25,"W":0.035},{"a":0.25,"b":-3,"W":0.064},{"a":0.25,"b":-2.75,"W":0.108},{"a":0.25,"b":-2.5,"W":0.169},{"a":0.25,"b":-2.25,"W":0.242},{"a":0.25,"b":-2,"W":0.315},{"a":0.25,"b":-1.75,"W":0.371},{"a":0.25,"b":-1.5,"W":0.386},{"a":0.25,"b":-1.25,"W":0.341},{"a":0.25,"b":-1,"W":0.233},{"a":0.25,"b":-0.75,"W":0.078},{"a":0.25,"b":-0.5,"W":-0.087},{"a":0.25,"b":-0.25,"W":-0.216},{"a":0.25,"b":0,"W":-0.266},{"a":0.25,"b":0.25,"W":-0.221},{"a":0.25,"b":0.5,"W":-0.091},{"a":0.25,"b":0.75,"W":0.084},{"a":0.25,"b":1,"W":0.255},{"a":0.25,"b":1.25,"W":0.382},{"a":0.25,"b":1.5,"W":0.441},{"a":0.25,"b":1.75,"W":0.433},{"a":0.25,"b":2,"W":0.377},{"a":0.25,"b":2.25,"W":0.295},{"a":0.25,"b":2.5,"W":0.211},{"a":0.25,"b":2.75,"W":0.139},{"a":0.25,"b":3,"W":0.084},{"a":0.25,"b":3.25,"W":0.047},{"a":0.25,"b":3.5,"W":0.025},{"a":0.25,"b":3.75,"W":0.012},{"a":0.25,"b":4,"W":0.005},
      {"a":0.5,"b":-4,"W":0.003},{"a":0.5,"b":-3.75,"W":0.008},{"a":0.5,"b":-3.5,"W":0.016},{"a":0.5,"b":-3.25,"W":0.031},{"a":0.5,"b":-3,"W":0.057},{"a":0.5,"b":-2.75,"W":0.097},{"a":0.5,"b":-2.5,"W":0.152},{"a":0.5,"b":-2.25,"W":0.219},{"a":0.5,"b":-2,"W":0.29},{"a":0.5,"b":-1.75,"W":0.348},{"a":0.5,"b":-1.5,"W":0.374},{"a":0.5,"b":-1.25,"W":0.353},{"a":0.5,"b":-1,"W":0.278},{"a":0.5,"b":-0.75,"W":0.162},{"a":0.5,"b":-0.5,"W":0.036},{"a":0.5,"b":-0.25,"W":-0.063},{"a":0.5,"b":0,"W":-0.102},{"a":0.5,"b":0.25,"W":-0.065},{"a":0.5,"b":0.5,"W":0.038},{"a":0.5,"b":0.75,"W":0.174},{"a":0.5,"b":1,"W":0.304},{"a":0.5,"b":1.25,"W":0.394},{"a":0.5,"b":1.5,"W":0.428},{"a":0.5,"b":1.75,"W":0.407},{"a":0.5,"b":2,"W":0.346},{"a":0.5,"b":2.25,"W":0.268},{"a":0.5,"b":2.5,"W":0.19},{"a":0.5,"b":2.75,"W":0.124},{"a":0.5,"b":3,"W":0.075},{"a":0.5,"b":3.25,"W":0.042},{"a":0.5,"b":3.5,"W":0.022},{"a":0.5,"b":3.75,"W":0.011},{"a":0.5,"b":4,"W":0.005},
      {"a":0.75,"b":-4,"W":0.003},{"a":0.75,"b":-3.75,"W":0.006},{"a":0.75,"b":-3.5,"W":0.013},{"a":0.75,"b":-3.25,"W":0.025},{"a":0.75,"b":-3,"W":0.047},{"a":0.75,"b":-2.75,"W":0.08},{"a":0.75,"b":-2.5,"W":0.127},{"a":0.75,"b":-2.25,"W":0.186},{"a":0.75,"b":-2,"W":0.25},{"a":0.75,"b":-1.75,"W":0.309},{"a":0.75,"b":-1.5,"W":0.348},{"a":0.75,"b":-1.25,"W":0.352},{"a":0.75,"b":-1,"W":0.318},{"a":0.75,"b":-0.75,"W":0.252},{"a":0.75,"b":-0.5,"W":0.174},{"a":0.75,"b":-0.25,"W":0.112},{"a":0.75,"b":0,"W":0.088},{"a":0.75,"b":0.25,"W":0.114},{"a":0.75,"b":0.5,"W":0.182},{"a":0.75,"b":0.75,"W":0.269},{"a":0.75,"b":1,"W":0.347},{"a":0.75,"b":1.25,"W":0.394},{"a":0.75,"b":1.5,"W":0.397},{"a":0.75,"b":1.75,"W":0.361},{"a":0.75,"b":2,"W":0.299},{"a":0.75,"b":2.25,"W":0.227},{"a":0.75,"b":2.5,"W":0.158},{"a":0.75,"b":2.75,"W":0.102},{"a":0.75,"b":3,"W":0.061},{"a":0.75,"b":3.25,"W":0.034},{"a":0.75,"b":3.5,"W":0.018},{"a":0.75,"b":3.75,"W":0.008},{"a":0.75,"b":4,"W":0.004},
      {"a":1,"b":-4,"W":0.002},{"a":1,"b":-3.75,"W":0.004},{"a":1,"b":-3.5,"W":0.01},{"a":1,"b":-3.25,"W":0.019},{"a":1,"b":-3,"W":0.035},{"a":1,"b":-2.75,"W":0.061},{"a":1,"b":-2.5,"W":0.098},{"a":1,"b":-2.25,"W":0.146},{"a":1,"b":-2,"W":0.201},{"a":1,"b":-1.75,"W":0.256},{"a":1,"b":-1.5,"W":0.301},{"a":1,"b":-1.25,"W":0.326},{"a":1,"b":-1,"W":0.326},{"a":1,"b":-0.75,"W":0.304},{"a":1,"b":-0.5,"W":0.27},{"a":1,"b":-0.25,"W":0.241},{"a":1,"b":0,"W":0.232},{"a":1,"b":0.25,"W":0.247},{"a":1,"b":0.5,"W":0.283},{"a":1,"b":0.75,"W":0.325},{"a":1,"b":1,"W":0.357},{"a":1,"b":1.25,"W":0.365},{"a":1,"b":1.5,"W":0.344},{"a":1,"b":1.75,"W":0.299},{"a":1,"b":2,"W":0.24},{"a":1,"b":2.25,"W":0.178},{"a":1,"b":2.5,"W":0.122},{"a":1,"b":2.75,"W":0.078},{"a":1,"b":3,"W":0.046},{"a":1,"b":3.25,"W":0.025},{"a":1,"b":3.5,"W":0.013},{"a":1,"b":3.75,"W":0.006},{"a":1,"b":4,"W":0.003},
      {"a":1.25,"b":-4,"W":0.001},{"a":1.25,"b":-3.75,"W":0.003},{"a":1.25,"b":-3.5,"W":0.007},{"a":1.25,"b":-3.25,"W":0.013},{"a":1.25,"b":-3,"W":0.024},{"a":1.25,"b":-2.75,"W":0.043},{"a":1.25,"b":-2.5,"W":0.07},{"a":1.25,"b":-2.25,"W":0.106},{"a":1.25,"b":-2,"W":0.149},{"a":1.25,"b":-1.75,"W":0.196},{"a":1.25,"b":-1.5,"W":0.24},{"a":1.25,"b":-1.25,"W":0.274},{"a":1.25,"b":-1,"W":0.295},{"a":1.25,"b":-0.75,"W":0.301},{"a":1.25,"b":-0.5,"W":0.297},{"a":1.25,"b":-0.25,"W":0.291},{"a":1.25,"b":0,"W":0.291},{"a":1.25,"b":0.25,"W":0.298},{"a":1.25,"b":0.5,"W":0.311},{"a":1.25,"b":0.75,"W":0.321},{"a":1.25,"b":1,"W":0.322},{"a":1.25,"b":1.25,"W":0.306},{"a":1.25,"b":1.5,"W":0.274},{"a":1.25,"b":1.75,"W":0.229},{"a":1.25,"b":2,"W":0.178},{"a":1.25,"b":2.25,"W":0.129},{"a":1.25,"b":2.5,"W":0.087},{"a":1.25,"b":2.75,"W":0.055},{"a":1.25,"b":3,"W":0.032},{"a":1.25,"b":3.25,"W":0.018},{"a":1.25,"b":3.5,"W":0.009},{"a":1.25,"b":3.75,"W":0.004},{"a":1.25,"b":4,"W":0.002},
      {"a":1.5,"b":-4,"W":0.001},{"a":1.5,"b":-3.75,"W":0.002},{"a":1.5,"b":-3.5,"W":0.004},{"a":1.5,"b":-3.25,"W":0.008},{"a":1.5,"b":-3,"W":0.016},{"a":1.5,"b":-2.75,"W":0.028},{"a":1.5,"b":-2.5,"W":0.045},{"a":1.5,"b":-2.25,"W":0.07},{"a":1.5,"b":-2,"W":0.101},{"a":1.5,"b":-1.75,"W":0.137},{"a":1.5,"b":-1.5,"W":0.173},{"a":1.5,"b":-1.25,"W":0.207},{"a":1.5,"b":-1,"W":0.233},{"a":1.5,"b":-0.75,"W":0.252},{"a":1.5,"b":-0.5,"W":0.263},{"a":1.5,"b":-0.25,"W":0.269},{"a":1.5,"b":0,"W":0.272},{"a":1.5,"b":0.25,"W":0.275},{"a":1.5,"b":0.5,"W":0.275},{"a":1.5,"b":0.75,"W":0.269},{"a":1.5,"b":1,"W":0.255},{"a":1.5,"b":1.25,"W":0.231},{"a":1.5,"b":1.5,"W":0.198},{"a":1.5,"b":1.75,"W":0.16},{"a":1.5,"b":2,"W":0.121},{"a":1.5,"b":2.25,"W":0.086},{"a":1.5,"b":2.5,"W":0.057},{"a":1.5,"b":2.75,"W":0.035},{"a":1.5,"b":3,"W":0.02},{"a":1.5,"b":3.25,"W":0.011},{"a":1.5,"b":3.5,"W":0.006},{"a":1.5,"b":3.75,"W":0.003},{"a":1.5,"b":4,"W":0.001},
      {"a":1.75,"b":-4,"W":0},{"a":1.75,"b":-3.75,"W":0.001},{"a":1.75,"b":-3.5,"W":0.002},{"a":1.75,"b":-3.25,"W":0.005},{"a":1.75,"b":-3,"W":0.009},{"a":1.75,"b":-2.75,"W":0.016},{"a":1.75,"b":-2.5,"W":0.027},{"a":1.75,"b":-2.25,"W":0.043},{"a":1.75,"b":-2,"W":0.063},{"a":1.75,"b":-1.75,"W":0.087},{"a":1.75,"b":-1.5,"W":0.113},{"a":1.75,"b":-1.25,"W":0.139},{"a":1.75,"b":-1,"W":0.163},{"a":1.75,"b":-0.75,"W":0.182},{"a":1.75,"b":-0.5,"W":0.196},{"a":1.75,"b":-0.25,"W":0.205},{"a":1.75,"b":0,"W":0.21},{"a":1.75,"b":0.25,"W":0.21},{"a":1.75,"b":0.5,"W":0.205},{"a":1.75,"b":0.75,"W":0.194},{"a":1.75,"b":1,"W":0.178},{"a":1.75,"b":1.25,"W":0.155},{"a":1.75,"b":1.5,"W":0.129},{"a":1.75,"b":1.75,"W":0.101},{"a":1.75,"b":2,"W":0.075},{"a":1.75,"b":2.25,"W":0.052},{"a":1.75,"b":2.5,"W":0.034},{"a":1.75,"b":2.75,"W":0.021},{"a":1.75,"b":3,"W":0.012},{"a":1.75,"b":3.25,"W":0.006},{"a":1.75,"b":3.5,"W":0.003},{"a":1.75,"b":3.75,"W":0.002},{"a":1.75,"b":4,"W":0.001},
      {"a":2,"b":-4,"W":0},{"a":2,"b":-3.75,"W":0.001},{"a":2,"b":-3.5,"W":0.001},{"a":2,"b":-3.25,"W":0.002},{"a":2,"b":-3,"W":0.005},{"a":2,"b":-2.75,"W":0.009},{"a":2,"b":-2.5,"W":0.015},{"a":2,"b":-2.25,"W":0.023},{"a":2,"b":-2,"W":0.035},{"a":2,"b":-1.75,"W":0.05},{"a":2,"b":-1.5,"W":0.066},{"a":2,"b":-1.25,"W":0.083},{"a":2,"b":-1,"W":0.1},{"a":2,"b":-0.75,"W":0.115},{"a":2,"b":-0.5,"W":0.126},{"a":2,"b":-0.25,"W":0.134},{"a":2,"b":0,"W":0.138},{"a":2,"b":0.25,"W":0.137},{"a":2,"b":0.5,"W":0.132},{"a":2,"b":0.75,"W":0.123},{"a":2,"b":1,"W":0.11},{"a":2,"b":1.25,"W":0.093},{"a":2,"b":1.5,"W":0.076},{"a":2,"b":1.75,"W":0.058},{"a":2,"b":2,"W":0.042},{"a":2,"b":2.25,"W":0.029},{"a":2,"b":2.5,"W":0.018},{"a":2,"b":2.75,"W":0.011},{"a":2,"b":3,"W":0.006},{"a":2,"b":3.25,"W":0.003},{"a":2,"b":3.5,"W":0.002},{"a":2,"b":3.75,"W":0.001},{"a":2,"b":4,"W":0},
      {"a":2.25,"b":-4,"W":0},{"a":2.25,"b":-3.75,"W":0},{"a":2.25,"b":-3.5,"W":0.001},{"a":2.25,"b":-3.25,"W":0.001},{"a":2.25,"b":-3,"W":0.002},{"a":2.25,"b":-2.75,"W":0.004},{"a":2.25,"b":-2.5,"W":0.007},{"a":2.25,"b":-2.25,"W":0.012},{"a":2.25,"b":-2,"W":0.018},{"a":2.25,"b":-1.75,"W":0.026},{"a":2.25,"b":-1.5,"W":0.035},{"a":2.25,"b":-1.25,"W":0.045},{"a":2.25,"b":-1,"W":0.055},{"a":2.25,"b":-0.75,"W":0.064},{"a":2.25,"b":-0.5,"W":0.071},{"a":2.25,"b":-0.25,"W":0.076},{"a":2.25,"b":0,"W":0.079},{"a":2.25,"b":0.25,"W":0.078},{"a":2.25,"b":0.5,"W":0.075},{"a":2.25,"b":0.75,"W":0.068},{"a":2.25,"b":1,"W":0.06},{"a":2.25,"b":1.25,"W":0.05},{"a":2.25,"b":1.5,"W":0.04},{"a":2.25,"b":1.75,"W":0.03},{"a":2.25,"b":2,"W":0.021},{"a":2.25,"b":2.25,"W":0.014},{"a":2.25,"b":2.5,"W":0.009},{"a":2.25,"b":2.75,"W":0.005},{"a":2.25,"b":3,"W":0.003},{"a":2.25,"b":3.25,"W":0.002},{"a":2.25,"b":3.5,"W":0.001},{"a":2.25,"b":3.75,"W":0},{"a":2.25,"b":4,"W":0},
      {"a":2.5,"b":-4,"W":0},{"a":2.5,"b":-3.75,"W":0},{"a":2.5,"b":-3.5,"W":0},{"a":2.5,"b":-3.25,"W":0.001},{"a":2.5,"b":-3,"W":0.001},{"a":2.5,"b":-2.75,"W":0.002},{"a":2.5,"b":-2.5,"W":0.003},{"a":2.5,"b":-2.25,"W":0.005},{"a":2.5,"b":-2,"W":0.008},{"a":2.5,"b":-1.75,"W":0.012},{"a":2.5,"b":-1.5,"W":0.017},{"a":2.5,"b":-1.25,"W":0.022},{"a":2.5,"b":-1,"W":0.027},{"a":2.5,"b":-0.75,"W":0.032},{"a":2.5,"b":-0.5,"W":0.036},{"a":2.5,"b":-0.25,"W":0.038},{"a":2.5,"b":0,"W":0.04},{"a":2.5,"b":0.25,"W":0.039},{"a":2.5,"b":0.5,"W":0.037},{"a":2.5,"b":0.75,"W":0.034},{"a":2.5,"b":1,"W":0.029},{"a":2.5,"b":1.25,"W":0.024},{"a":2.5,"b":1.5,"W":0.019},{"a":2.5,"b":1.75,"W":0.014},{"a":2.5,"b":2,"W":0.01},{"a":2.5,"b":2.25,"W":0.007},{"a":2.5,"b":2.5,"W":0.004},{"a":2.5,"b":2.75,"W":0.002},{"a":2.5,"b":3,"W":0.001},{"a":2.5,"b":3.25,"W":0.001},{"a":2.5,"b":3.5,"W":0},{"a":2.5,"b":3.75,"W":0},{"a":2.5,"b":4,"W":0},
      {"a":2.75,"b":-4,"W":0},{"a":2.75,"b":-3.75,"W":0},{"a":2.75,"b":-3.5,"W":0},{"a":2.75,"b":-3.25,"W":0},{"a":2.75,"b":-3,"W":0},{"a":2.75,"b":-2.75,"W":0.001},{"a":2.75,"b":-2.5,"W":0.001},{"a":2.75,"b":-2.25,"W":0.002},{"a":2.75,"b":-2,"W":0.003},{"a":2.75,"b":-1.75,"W":0.005},{"a":2.75,"b":-1.5,"W":0.007},{"a":2.75,"b":-1.25,"W":0.009},{"a":2.75,"b":-1,"W":0.012},{"a":2.75,"b":-0.75,"W":0.014},{"a":2.75,"b":-0.5,"W":0.016},{"a":2.75,"b":-0.25,"W":0.017},{"a":2.75,"b":0,"W":0.018},{"a":2.75,"b":0.25,"W":0.017},{"a":2.75,"b":0.5,"W":0.016},{"a":2.75,"b":0.75,"W":0.015},{"a":2.75,"b":1,"W":0.013},{"a":2.75,"b":1.25,"W":0.01},{"a":2.75,"b":1.5,"W":0.008},{"a":2.75,"b":1.75,"W":0.006},{"a":2.75,"b":2,"W":0.004},{"a":2.75,"b":2.25,"W":0.003},{"a":2.75,"b":2.5,"W":0.002},{"a":2.75,"b":2.75,"W":0.001},{"a":2.75,"b":3,"W":0.001},{"a":2.75,"b":3.25,"W":0},{"a":2.75,"b":3.5,"W":0},{"a":2.75,"b":3.75,"W":0},{"a":2.75,"b":4,"W":0},
      {"a":3,"b":-4,"W":0},{"a":3,"b":-3.75,"W":0},{"a":3,"b":-3.5,"W":0},{"a":3,"b":-3.25,"W":0},{"a":3,"b":-3,"W":0},{"a":3,"b":-2.75,"W":0},{"a":3,"b":-2.5,"W":0},{"a":3,"b":-2.25,"W":0.001},{"a":3,"b":-2,"W":0.001},{"a":3,"b":-1.75,"W":0.002},{"a":3,"b":-1.5,"W":0.003},{"a":3,"b":-1.25,"W":0.004},{"a":3,"b":-1,"W":0.005},{"a":3,"b":-0.75,"W":0.005},{"a":3,"b":-0.5,"W":0.006},{"a":3,"b":-0.25,"W":0.007},{"a":3,"b":0,"W":0.007},{"a":3,"b":0.25,"W":0.007},{"a":3,"b":0.5,"W":0.007},{"a":3,"b":0.75,"W":0.006},{"a":3,"b":1,"W":0.005},{"a":3,"b":1.25,"W":0.004},{"a":3,"b":1.5,"W":0.003},{"a":3,"b":1.75,"W":0.002},{"a":3,"b":2,"W":0.002},{"a":3,"b":2.25,"W":0.001},{"a":3,"b":2.5,"W":0.001},{"a":3,"b":2.75,"W":0},{"a":3,"b":3,"W":0},{"a":3,"b":3.25,"W":0},{"a":3,"b":3.5,"W":0},{"a":3,"b":3.75,"W":0},{"a":3,"b":4,"W":0}
    ]
  },
  "spacing": 8,
  "bounds": "flush",
  "hconcat": [
    {
      "width": 994,
      "height": 734,
      "view": {"stroke": "black", "strokeWidth": 5},
      "title": {"text": "(a)", "anchor": "start", "frame": "group", "dx": -239, "offset": -94, "baseline": "alphabetic", "fontSize": 104, "fontWeight": "normal", "font": "Liberation Sans"},
      "data": {"name": "bars"},
      "layer": [
        {
          "mark": {"type": "bar", "size": 86, "fill": "#ff0000", "stroke": "black", "strokeWidth": 3},
          "encoding": {
            "x": {
              "field": "n", "type": "quantitative",
              "scale": {"domain": [-0.5, 6.5], "nice": false, "zero": false},
              "axis": {"orient": "bottom", "values": [0, 1, 2, 3, 4, 5, 6], "title": "Photon number", "domain": false,
                "tickSize": 16, "tickWidth": 4, "labelFontSize": 40, "labelFontWeight": "bold", "labelPadding": 12,
                "titleFontSize": 45, "titleFontWeight": "bold", "titlePadding": 30}
            },
            "y": {
              "field": "P", "type": "quantitative",
              "scale": {"domain": [0, 80], "nice": false},
              "axis": {"orient": "left", "values": [0, 20, 40, 60, 80], "title": "Probability(%)", "domain": false,
                "tickSize": 16, "tickWidth": 4, "labelFontSize": 40, "labelFontWeight": "bold", "labelPadding": 10,
                "titleFontSize": 45, "titleFontWeight": "bold", "titlePadding": 40}
            }
          }
        },
        {
          "mark": {"type": "text", "baseline": "alphabetic", "dy": -17, "fontSize": 41, "fontWeight": "bold", "color": "black"},
          "encoding": {
            "x": {
              "field": "n", "type": "quantitative",
              "axis": {"orient": "bottom", "values": [-0.5, 0.5, 1.5, 2.5, 3.5, 4.5, 5.5, 6.5], "labels": false, "title": null,
                "domain": false, "tickSize": 10, "tickWidth": 4}
            },
            "y": {
              "field": "P", "type": "quantitative",
              "axis": {"orient": "left", "values": [10, 30, 50, 70], "labels": false, "title": null,
                "domain": false, "tickSize": 9, "tickWidth": 4}
            },
            "text": {"field": "P", "type": "quantitative"}
          }
        }
      ],
      "resolve": {"axis": {"x": "independent", "y": "independent"}}
    },
    {
      "width": 1200,
      "height": 734,
      "title": {"text": "(b)", "anchor": "start", "frame": "group", "dx": 35, "offset": -127, "baseline": "alphabetic", "fontSize": 104, "fontWeight": "normal", "font": "Liberation Sans"},
      "data": {"name": "box"},
      "transform": [
        {"calculate": "(datum.x + 8) / 16", "as": "u"},
        {"calculate": "(datum.p + 8) / 16", "as": "v"},
        {"calculate": "(datum.W + 0.35) / 0.8", "as": "w"},
        {"calculate": "(1 - datum.w) * ((1 - datum.u) * (1 - datum.v) * 218 + datum.u * (1 - datum.v) * 732 + datum.u * datum.v * 1143 + (1 - datum.u) * datum.v * 651) + datum.w * ((1 - datum.u) * (1 - datum.v) * 192 + datum.u * (1 - datum.v) * 734 + datum.u * datum.v * 1172 + (1 - datum.u) * datum.v * 651)", "as": "sx"},
        {"calculate": "(1 - datum.w) * ((1 - datum.u) * (1 - datum.v) * 682 + datum.u * (1 - datum.v) * 871 + datum.u * datum.v * 655 + (1 - datum.u) * datum.v * 516) + datum.w * ((1 - datum.u) * (1 - datum.v) * 20 + datum.u * (1 - datum.v) * 105 + datum.u * datum.v * 9 - (1 - datum.u) * datum.v * 53)", "as": "sy"}
      ],
      "encoding": {
        "x": {"field": "sx", "type": "quantitative", "scale": {"domain": [0, 1200], "nice": false, "zero": false}, "axis": null},
        "y": {"field": "sy", "type": "quantitative", "scale": {"domain": [0, 734], "nice": false, "zero": false, "reverse": true}, "axis": null}
      },
      "layer": [
        {
          "transform": [{"filter": "datum.k == 'g'"}],
          "mark": {"type": "line", "stroke": "#cfcfcf", "strokeWidth": 1.5, "strokeDash": [3, 3]},
          "encoding": {"detail": {"field": "s", "type": "nominal"}, "order": {"field": "o", "type": "quantitative"}}
        },
        {
          "transform": [{"filter": "datum.k == 'f'"}],
          "mark": {"type": "line", "stroke": "#555555", "strokeWidth": 1.5, "strokeDash": [2, 2]},
          "encoding": {"detail": {"field": "s", "type": "nominal"}, "order": {"field": "o", "type": "quantitative"}}
        },
        {
          "transform": [{"filter": "datum.k == 'e'"}],
          "mark": {"type": "line", "stroke": "#222222", "strokeWidth": 1.4},
          "encoding": {"detail": {"field": "s", "type": "nominal"}, "order": {"field": "o", "type": "quantitative"}}
        },
        {
          "transform": [{"filter": "datum.k == 'pk'"}],
          "mark": {"type": "line", "interpolate": "linear-closed", "fill": "#9bb72a", "stroke": "#9bb72a", "strokeWidth": 1},
          "encoding": {"order": {"field": "o", "type": "quantitative"}}
        },
        {
          "data": {"name": "wigner"},
          "transform": [
            {"calculate": "(datum.a + datum.b) / sqrt(2)", "as": "x"},
            {"calculate": "(datum.b - datum.a) / sqrt(2)", "as": "p"},
            {"calculate": "(datum.x + 8) / 16", "as": "u"},
            {"calculate": "(datum.p + 8) / 16", "as": "v"},
            {"calculate": "(datum.W + 0.35) / 0.8", "as": "w"},
            {"calculate": "(1 - datum.w) * ((1 - datum.u) * (1 - datum.v) * 218 + datum.u * (1 - datum.v) * 732 + datum.u * datum.v * 1143 + (1 - datum.u) * datum.v * 651) + datum.w * ((1 - datum.u) * (1 - datum.v) * 192 + datum.u * (1 - datum.v) * 734 + datum.u * datum.v * 1172 + (1 - datum.u) * datum.v * 651)", "as": "sx"},
            {"calculate": "(1 - datum.w) * ((1 - datum.u) * (1 - datum.v) * 682 + datum.u * (1 - datum.v) * 871 + datum.u * datum.v * 655 + (1 - datum.u) * datum.v * 516) + datum.w * ((1 - datum.u) * (1 - datum.v) * 20 + datum.u * (1 - datum.v) * 105 + datum.u * datum.v * 9 - (1 - datum.u) * datum.v * 53)", "as": "sy"},
            {"calculate": "datum.a + '|' + datum.b", "as": "k0"},
            {"calculate": "datum.a + '|' + (datum.b - 0.25)", "as": "k1"},
            {"calculate": "(datum.a - 0.25) + '|' + (datum.b - 0.25)", "as": "k2"},
            {"calculate": "(datum.a - 0.25) + '|' + datum.b", "as": "k3"},
            {"fold": ["k0", "k1", "k2", "k3"], "as": ["corner", "quad"]},
            {"joinaggregate": [{"op": "count", "as": "n"}], "groupby": ["quad"]},
            {"filter": "datum.n == 4"},
            {"calculate": "(datum.corner == 'k1' || datum.corner == 'k2' ? 1 : -1) * datum.W", "as": "sb"},
            {"calculate": "(datum.corner == 'k2' || datum.corner == 'k3' ? 1 : -1) * datum.W", "as": "sa"},
            {"joinaggregate": [{"op": "mean", "field": "W", "as": "Wm"}, {"op": "sum", "field": "sb", "as": "gb"}, {"op": "sum", "field": "sa", "as": "ga"}], "groupby": ["quad"]},
            {"calculate": "datum.Wm < -0.3 ? 275 - (datum.Wm + 0.35) / 0.05 * 20 : datum.Wm < -0.24 ? 255 - (datum.Wm + 0.3) / 0.06 * 20 : datum.Wm < -0.17 ? 235 - (datum.Wm + 0.24) / 0.07 * 35 : datum.Wm < -0.1 ? 200 - (datum.Wm + 0.17) / 0.07 * 40 : datum.Wm < -0.05 ? 160 - (datum.Wm + 0.1) / 0.05 * 60 : datum.Wm < 0 ? 100 - (datum.Wm + 0.05) / 0.05 * 28 : datum.Wm < 0.05 ? 72 - datum.Wm / 0.05 * 12 : datum.Wm < 0.1 ? 60 - (datum.Wm - 0.05) / 0.05 * 15 : datum.Wm < 0.14 ? 45 - (datum.Wm - 0.1) / 0.04 * 20 : datum.Wm < 0.18 ? 25 - (datum.Wm - 0.14) / 0.04 * 22 : max(0, 3 - (datum.Wm - 0.18) / 0.1 * 3)", "as": "H"},
            {"calculate": "datum.Wm < 0 ? 0.85 : datum.Wm < 0.05 ? 0.63 + datum.Wm / 0.05 * 0.25 : datum.Wm < 0.3 ? 0.88 : 0.88 + (datum.Wm - 0.3) / 0.15 * 0.12", "as": "S"},
            {"calculate": "datum.Wm < -0.3 ? 0.3 + (datum.Wm + 0.35) / 0.05 * 0.06 : datum.Wm < -0.24 ? 0.36 + (datum.Wm + 0.3) / 0.06 * 0.09 : datum.Wm < -0.17 ? 0.45 - (datum.Wm + 0.24) / 0.07 * 0.03 : datum.Wm < -0.1 ? 0.42 - (datum.Wm + 0.17) / 0.07 * 0.06 : datum.Wm < -0.05 ? 0.36 - (datum.Wm + 0.1) / 0.05 * 0.03 : datum.Wm < 0 ? 0.33 + (datum.Wm + 0.05) / 0.05 * 0.11 : datum.Wm < 0.05 ? 0.44 + datum.Wm / 0.05 * 0.09 : datum.Wm < 0.14 ? 0.53 - (datum.Wm - 0.05) / 0.09 * 0.03 : datum.Wm < 0.18 ? 0.5 - (datum.Wm - 0.14) / 0.04 * 0.03 : datum.Wm < 0.3 ? 0.47 - (datum.Wm - 0.18) / 0.12 * 0.05 : 0.42 - (datum.Wm - 0.3) / 0.15 * 0.15", "as": "L"},
            {"calculate": "clamp(1 - 4.5 * datum.gb, 0.3, 1.15) * clamp(1 - 2.5 * datum.ga, 0.6, 1.1)", "as": "s0"},
            {"calculate": "datum.Wm >= 0 ? 1 + (datum.s0 - 1) * min(1, datum.Wm / 0.025) : 1 + (datum.s0 - 1) * 0.3", "as": "sh"},
            {"calculate": "'' + hsl(datum.H, datum.S, min(0.9, datum.L * datum.sh))", "as": "col"}
          ],
          "mark": {"type": "line", "interpolate": "linear-closed", "strokeWidth": 1, "strokeJoin": "round"},
          "encoding": {
            "detail": {"field": "quad", "type": "nominal"},
            "order": {"field": "corner", "type": "ordinal"},
            "fill": {"field": "col", "type": "nominal", "scale": null},
            "stroke": {"field": "col", "type": "nominal", "scale": null}
          }
        },
        {
          "transform": [{"filter": "datum.k == 'np'"}],
          "mark": {"type": "line", "interpolate": "linear-closed", "fill": "#9bb72a", "fillOpacity": 0.82, "strokeWidth": 0},
          "encoding": {"order": {"field": "o", "type": "quantitative"}}
        },
        {
          "transform": [{"filter": "datum.k == 'a'"}],
          "mark": {"type": "line", "stroke": "black", "strokeWidth": 3},
          "encoding": {"detail": {"field": "s", "type": "nominal"}, "order": {"field": "o", "type": "quantitative"}}
        },
        {
          "transform": [{"filter": "datum.k == 't'"}],
          "mark": {"type": "line", "stroke": "black", "strokeWidth": 3},
          "encoding": {"detail": {"field": "s", "type": "nominal"}, "order": {"field": "o", "type": "quantitative"}}
        },
        {
          "transform": [{"filter": "datum.k == 'wl'"}],
          "mark": {"type": "text", "align": "right", "baseline": "middle", "angle": -10, "dx": -17, "dy": 6, "fontSize": 28, "fontWeight": "bold", "color": "black"},
          "encoding": {"text": {"field": "t", "type": "nominal"}}
        },
        {
          "transform": [{"filter": "datum.k == 'wt'"}],
          "mark": {"type": "text", "align": "right", "baseline": "middle", "angle": -14, "dx": -73, "dy": 4, "fontSize": 33, "fontWeight": "bold", "color": "black"},
          "encoding": {"text": {"field": "t", "type": "nominal"}}
        },
        {
          "transform": [{"filter": "datum.k == 'xl' || datum.k == 'xt'"}],
          "mark": {"type": "text", "align": "center", "baseline": "middle", "angle": -26, "fontSize": 26, "fontWeight": "bold", "color": "black"},
          "encoding": {"text": {"field": "t", "type": "nominal"}}
        },
        {
          "transform": [{"filter": "datum.k == 'pn' || datum.k == 'pt'"}],
          "mark": {"type": "text", "align": "center", "baseline": "middle", "angle": 18, "fontSize": 26, "fontWeight": "bold", "color": "black"},
          "encoding": {"text": {"field": "t", "type": "nominal"}}
        }
      ]
    }
  ]
}
